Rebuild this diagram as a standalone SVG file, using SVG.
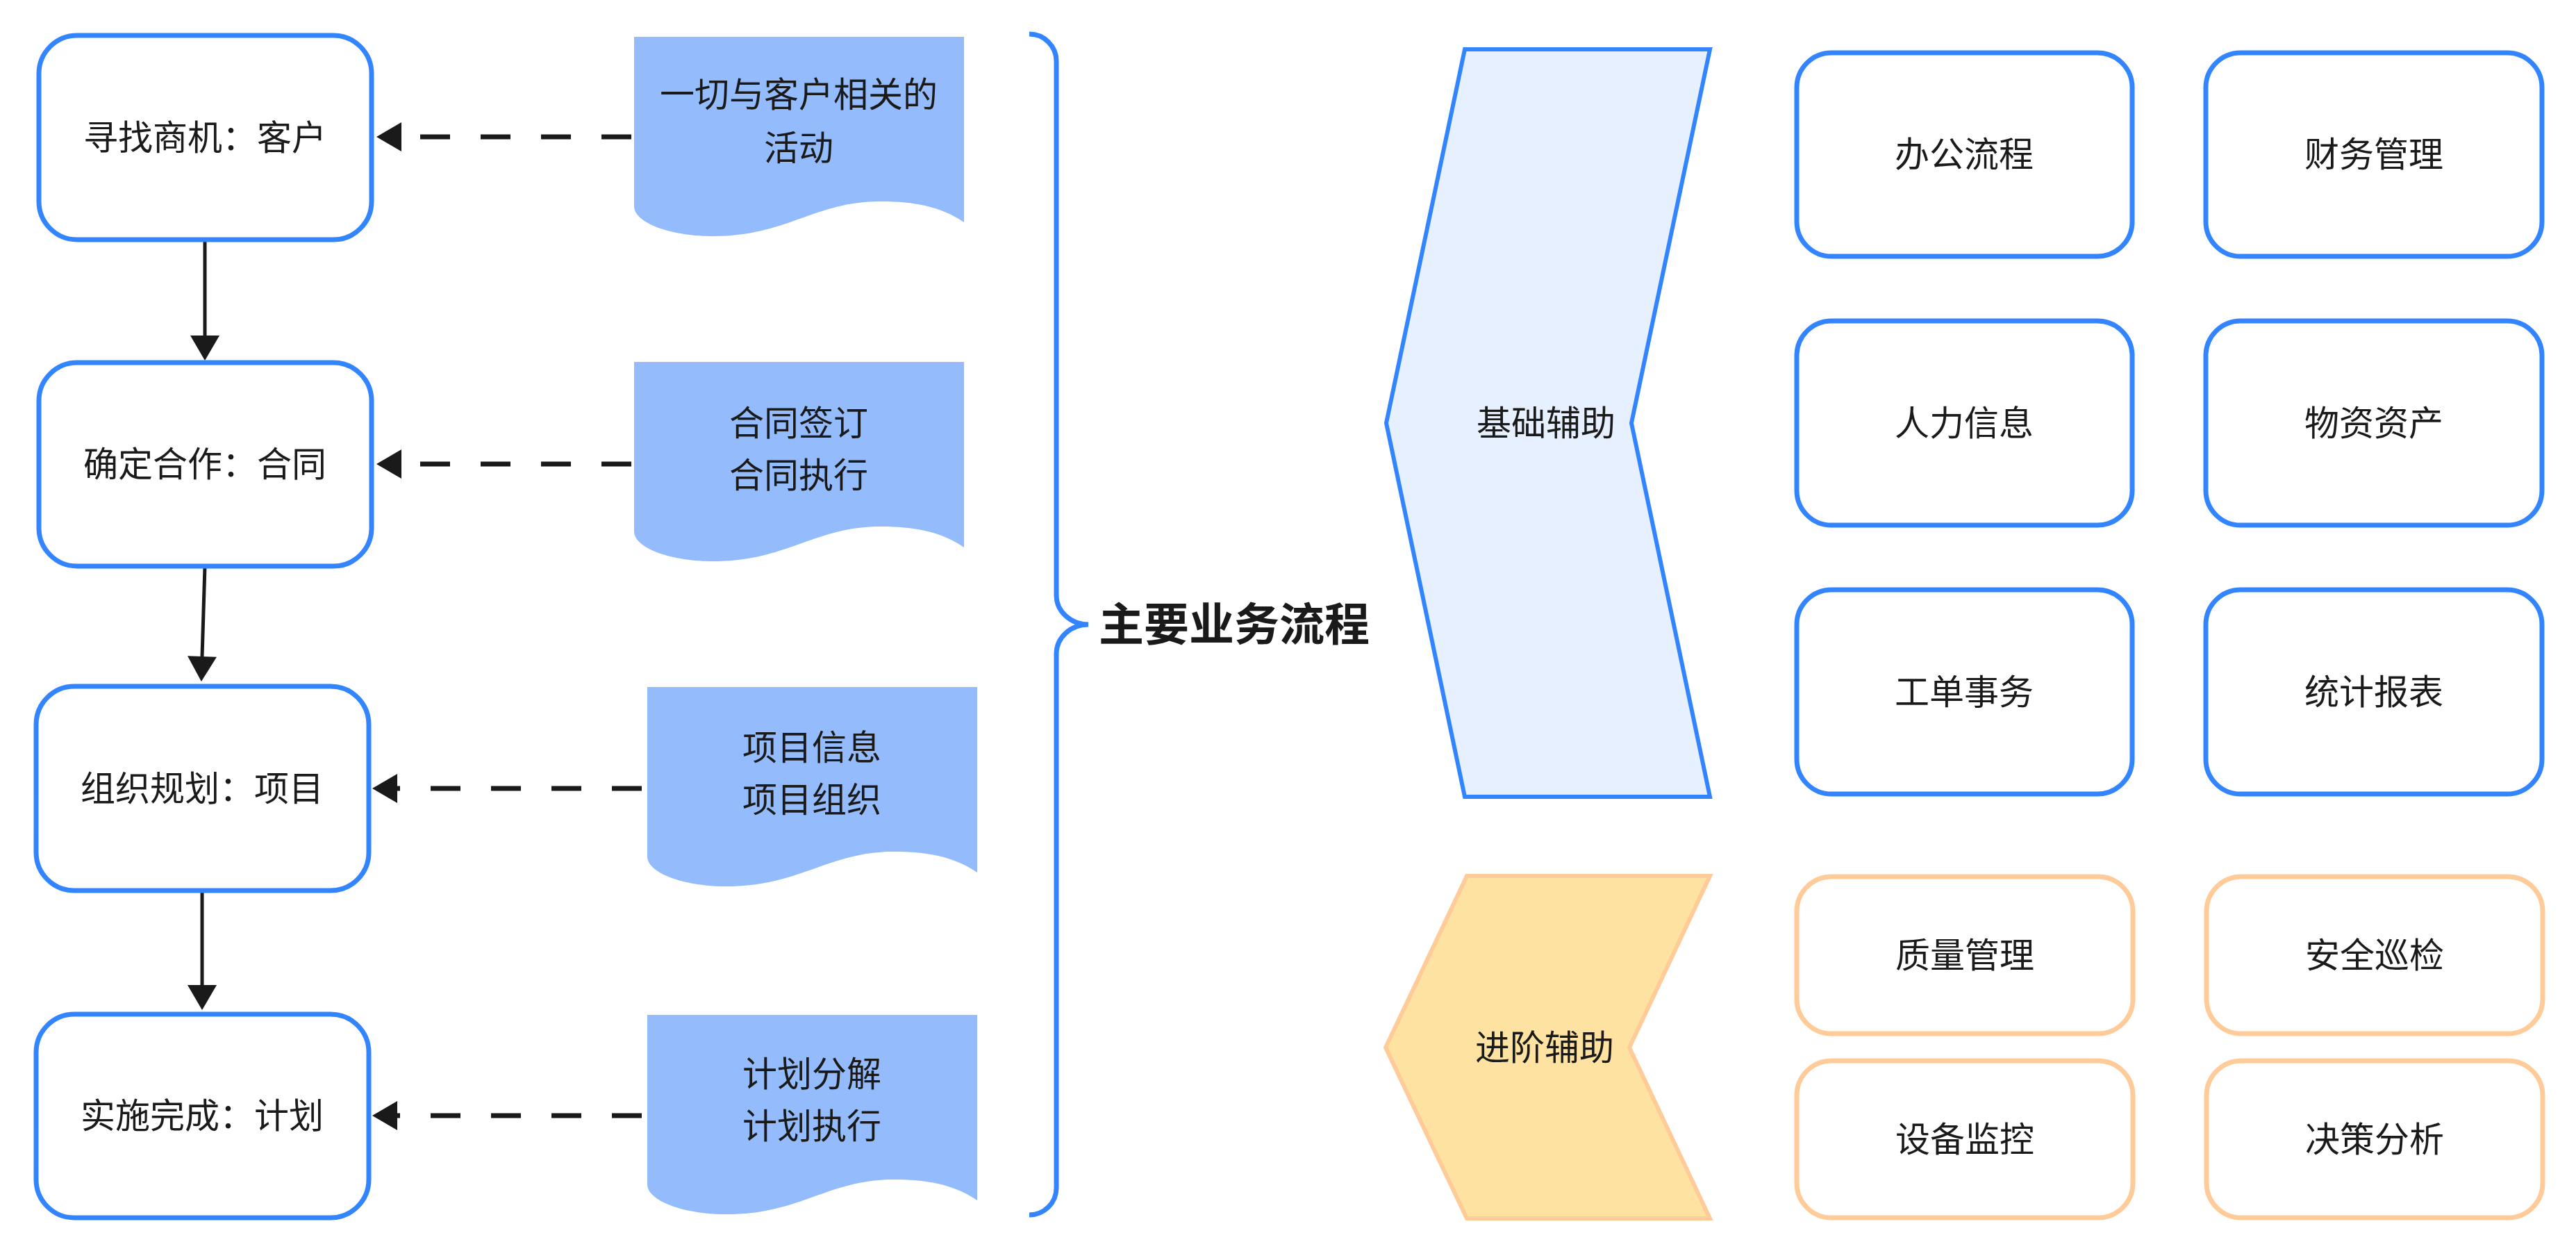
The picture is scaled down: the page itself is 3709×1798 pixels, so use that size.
<svg xmlns="http://www.w3.org/2000/svg" width="3709" height="1798" viewBox="0 0 3709 1798">
<defs>
<style>
.t{font-family:"Noto Sans CJK SC","Noto Sans",sans-serif;font-size:50px;fill:#1a1a1a;text-anchor:middle;dominant-baseline:central}
.title{font-family:"Noto Sans CJK SC","Noto Sans",sans-serif;font-size:65px;font-weight:bold;fill:#1a1a1a;dominant-baseline:central}
.node{fill:#ffffff;stroke:#3385ff;stroke-width:7}
.onode{fill:#ffffff;stroke:#ffcc99;stroke-width:7}
.doc{fill:#94bcfd;stroke:none}
.solid{stroke:#1a1a1a;stroke-width:5;fill:none}
.dash{stroke:#1a1a1a;stroke-width:7;fill:none;stroke-dasharray:43 44}
</style>
<marker id="ah" markerUnits="userSpaceOnUse" markerWidth="40" markerHeight="44" refX="0" refY="21" orient="auto" overflow="visible">
<path d="M0,0 L36,21 L0,42 Z" fill="#1a1a1a"/>
</marker>
</defs>
<rect width="3709" height="1798" fill="#ffffff"/>

<g id="connectors">
<line class="solid" x1="295" y1="345" x2="295" y2="483" marker-end="url(#ah)"/>
<line class="solid" x1="295" y1="815" x2="291" y2="945" marker-end="url(#ah)"/>
<line class="solid" x1="291" y1="1282" x2="291" y2="1418" marker-end="url(#ah)"/>
<line class="dash" x1="909" y1="197" x2="578" y2="197" marker-end="url(#ah)"/>
<line class="dash" x1="909" y1="668" x2="578" y2="668" marker-end="url(#ah)"/>
<line class="dash" x1="924" y1="1135" x2="572" y2="1135" marker-end="url(#ah)"/>
<line class="dash" x1="924" y1="1606" x2="572" y2="1606" marker-end="url(#ah)"/>
</g>

<g id="node-1"><rect class="node" x="56" y="51" width="479" height="294" rx="55"/><text class="t" x="295" y="194">寻找商机：客户</text></g>
<g id="node-2"><rect class="node" x="56" y="522" width="479" height="293" rx="55"/><text class="t" x="295" y="664">确定合作：合同</text></g>
<g id="node-3"><rect class="node" x="52" y="988" width="479" height="294" rx="55"/><text class="t" x="291" y="1131">组织规划：项目</text></g>
<g id="node-4"><rect class="node" x="52" y="1460" width="479" height="293" rx="55"/><text class="t" x="291" y="1602">实施完成：计划</text></g>

<g id="doc-1"><path class="doc" d="M913,53 H1388 V320 C1353,296 1313,290 1267,290 C1173,290 1133,340 1027,340 C963,340 913,320 913,297 Z"/><text class="t" x="1150" y="132">一切与客户相关的</text><text class="t" x="1150" y="209">活动</text></g>
<g id="doc-2"><path class="doc" d="M913,521 H1388 V788 C1353,764 1313,758 1267,758 C1173,758 1133,808 1027,808 C963,808 913,788 913,765 Z"/><text class="t" x="1150" y="605">合同签订</text><text class="t" x="1150" y="680">合同执行</text></g>
<g id="doc-3"><path class="doc" d="M932,989 H1407 V1256 C1372,1232 1332,1226 1286,1226 C1192,1226 1152,1276 1046,1276 C982,1276 932,1256 932,1233 Z"/><text class="t" x="1169" y="1072">项目信息</text><text class="t" x="1169" y="1147">项目组织</text></g>
<g id="doc-4"><path class="doc" d="M932,1461 H1407 V1728 C1372,1704 1332,1698 1286,1698 C1192,1698 1152,1748 1046,1748 C982,1748 932,1728 932,1705 Z"/><text class="t" x="1169" y="1542">计划分解</text><text class="t" x="1169" y="1617">计划执行</text></g>

<g id="brace"><path d="M1482,49 A39,39 0 0 1 1521,88 V857 A46,42 0 0 0 1567,899 A46,42 0 0 0 1521,941 V1710 A39,39 0 0 1 1482,1749" fill="none" stroke="#3385ff" stroke-width="7"/><text class="title" x="1582" y="894">主要业务流程</text></g>

<g id="chevron-basic"><polygon points="2109,71 2462,71 2349,609 2462,1147 2109,1147 1996,609" fill="#e6f0ff" stroke="#3385ff" stroke-width="6"/><text class="t" x="2226" y="605">基础辅助</text></g>
<g id="chevron-advanced"><polygon points="2112,1261 2462,1261 2346,1508 2462,1754 2112,1754 1995,1508" fill="#fee2a2" stroke="#ffcc99" stroke-width="6"/><text class="t" x="2224" y="1504">进阶辅助</text></g>

<g id="box-office"><rect class="node" x="2587" y="76" width="483" height="293" rx="50"/><text class="t" x="2828" y="218">办公流程</text></g>
<g id="box-finance"><rect class="node" x="3176" y="76" width="484" height="293" rx="50"/><text class="t" x="3418" y="218">财务管理</text></g>
<g id="box-hr"><rect class="node" x="2587" y="462" width="483" height="294" rx="50"/><text class="t" x="2828" y="605">人力信息</text></g>
<g id="box-assets"><rect class="node" x="3176" y="462" width="484" height="294" rx="50"/><text class="t" x="3418" y="605">物资资产</text></g>
<g id="box-ticket"><rect class="node" x="2587" y="849" width="483" height="294" rx="50"/><text class="t" x="2828" y="992">工单事务</text></g>
<g id="box-report"><rect class="node" x="3176" y="849" width="484" height="294" rx="50"/><text class="t" x="3418" y="992">统计报表</text></g>

<g id="box-quality"><rect class="onode" x="2587" y="1262" width="484" height="226" rx="50"/><text class="t" x="2829" y="1371">质量管理</text></g>
<g id="box-safety"><rect class="onode" x="3177" y="1262" width="484" height="226" rx="50"/><text class="t" x="3419" y="1371">安全巡检</text></g>
<g id="box-device"><rect class="onode" x="2587" y="1527" width="484" height="226" rx="50"/><text class="t" x="2829" y="1636">设备监控</text></g>
<g id="box-decision"><rect class="onode" x="3177" y="1527" width="484" height="226" rx="50"/><text class="t" x="3419" y="1636">决策分析</text></g>
</svg>
